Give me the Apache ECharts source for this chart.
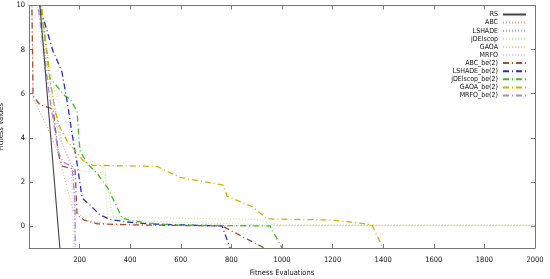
<!DOCTYPE html>
<html>
<head>
<meta charset="utf-8">
<script src="https://cdn.jsdelivr.net/npm/echarts@6/dist/echarts.min.js"></script>
<style>
html,body{margin:0;padding:0;background:#fff;}
#chart{width:550px;height:279px;}
</style>
</head>
<body>
<div id="chart"></div>
<script>
// ---- data ----
const seriesNames = ['RS','ABC','LSHADE','jDElscop','GAOA','MRFO','ABC_be(2)','LSHADE_be(2)','jDElscop_be(2)','GAOA_be(2)','MRFO_be(2)'];
const xTicks = [0,200,400,600,800,1000,1200,1400,1600,1800,2000];
const yTicks = [0,2,4,6,8,10];

const rsData = [[36,11],[122,-1]];
const abcData = [[10,11],[14,8],[16,5.8],[83,4.2],[115,3.3],[150,1.75],[174,0.72],[229,0.27],[320,0.05],[600,0.01],[2000,0.01]];
const lshadeData = [[30,11],[60,8],[100,5.5],[130,3.8],[160,2.9],[175,2.6],[180,1.0],[182,-1]];
const jdelscopData = [[40,11],[70,8],[100,6.2],[150,4.6],[200,3.6],[240,3.0],[300,2.6],[315,1.5],[330,0.5],[360,0.3],[500,0.2],[800,0.1],[1000,0.04],[2000,0.04]];
const gaoaData = [[40,11],[65,8],[90,5.6],[120,4.0],[160,3.0],[200,2.5],[300,2.4],[310,0.4],[600,0.35],[900,0.3],[1000,0.03],[2000,0.03]];
const mrfoData = [[25,11],[50,8],[80,6],[110,4.5],[140,3.5],[165,2.9],[172,1.0],[176,-1]];
const abcBeData = [[10,11],[14,8],[16,5.9],[43,5.5],[95,5.3],[115,3.4],[122,3.0],[134,2.7],[170,2.6],[182,2.55],[190,0.5],[220,0.25],[270,0.1],[400,0.05],[763,0.0],[930,-1]];
const lshadeBeData = [[38,11],[43,9.95],[95,7.93],[115,7.4],[130,7.0],[150,5.7],[170,4.2],[190,2.84],[210,1.26],[241,0.95],[281,0.5],[320,0.3],[387,0.18],[478,0.09],[763,0.0],[795,-1]];
const jdelscopBeData = [[42,11],[47,9.95],[83,6.7],[103,6.44],[142,5.9],[162,5.77],[190,5.2],[198,3.87],[202,3.42],[229,2.84],[269,2.39],[312,1.71],[340,1.04],[368,0.36],[411,0.22],[478,0.13],[569,0.04],[953,0.0],[1000,-1]];
const gaoaBeData = [[46,11],[51,9.86],[83,6.7],[103,5.2],[123,4.46],[150,3.87],[182,3.42],[213,2.97],[253,2.75],[506,2.7],[597,2.2],[767,1.85],[783,1.35],[885,0.86],[941,0.32],[1190,0.27],[1269,0.18],[1356,0.05],[1399,-1]];
const mrfoBeData = [[30,11],[36,10],[83,5.7],[115,3.4],[134,2.9],[170,2.7],[182,1.04],[183,-1]];

const allData = [rsData,abcData,lshadeData,jdelscopData,gaoaData,mrfoData,abcBeData,lshadeBeData,jdelscopBeData,gaoaBeData,mrfoBeData];
const colors = ['#444444','#eb9a8a','#9c9ce6','#a8eea8','#e6d48a','#f0c4f0','#a4502e','#2a2ac4','#44bb22','#d0b400','#a488e4'];
const dashes = ['solid',[1,2],[1,2],[1,2],[1,2],[1,2],[6,3,1,3],[6,3,1,3],[6,3,1,3],[6,3,1,3],[6,3,1,3]];
const widths = [1.1,1,1,1,1,1,1.3,1.3,1.3,1.3,1.3];

const FONT = 'DejaVu Sans Condensed, DejaVu Sans, sans-serif';
const chart = echarts.init(document.getElementById('chart'));
const axisCommon = {
  axisLine:{show:true,onZero:false,lineStyle:{color:'#777',width:1}},
  axisTick:{show:true,inside:true,length:4,lineStyle:{color:'#777'}},
  splitLine:{show:false}
};
chart.setOption({
  animation:false,
  backgroundColor:'#fff',
  grid:{left:29,right:15,top:5.5,bottom:31,show:false,containLabel:false,outerBoundsMode:'none'},
  legend:{
    show:true,orient:'vertical',align:'right',right:23,top:11,padding:0,
    itemWidth:23,itemHeight:6,itemGap:1.1,
    itemStyle:{opacity:0},
    textStyle:{fontFamily:FONT,fontSize:7,color:'#111',lineHeight:6,padding:[0,0,0,0]},
    data:seriesNames
  },
  xAxis:[
    Object.assign({type:'value',min:0,max:2000,interval:200,position:'bottom',
      name:'Fitness Evaluations',nameLocation:'middle',nameGap:19,
      nameTextStyle:{fontFamily:FONT,fontSize:7.5,color:'#111'},
      axisLabel:{fontFamily:FONT,fontSize:7.5,color:'#111',margin:8,formatter:v=>v===0?'':String(v)}},axisCommon),
    Object.assign({type:'value',min:0,max:2000,interval:200,position:'top',axisLabel:{show:false}},axisCommon)
  ],
  yAxis:[
    Object.assign({type:'value',min:-1,max:10,position:'left',
      name:'Fitness Values',nameLocation:'middle',nameGap:14,nameRotate:90,
      nameTextStyle:{fontFamily:FONT,fontSize:7.5,color:'#111'},
      axisLabel:{fontFamily:FONT,fontSize:7.5,color:'#111',margin:4,customValues:yTicks}},axisCommon,
      {axisTick:{show:true,inside:true,length:4,lineStyle:{color:'#777'},customValues:yTicks}}),
    Object.assign({type:'value',min:-1,max:10,position:'right',axisLabel:{show:false}},axisCommon,
      {axisTick:{show:true,inside:true,length:4,lineStyle:{color:'#777'},customValues:yTicks}})
  ],
  series: seriesNames.map((n,i)=>({
    name:n,type:'line',data:allData[i],symbol:'none',clip:true,
    xAxisIndex:0,yAxisIndex:0,
    color:colors[i],
    lineStyle:{color:colors[i],type:dashes[i],width:widths[i]},
    z: i===0?5:(i>=6?4:3)
  }))
});
</script>
</body>
</html>
